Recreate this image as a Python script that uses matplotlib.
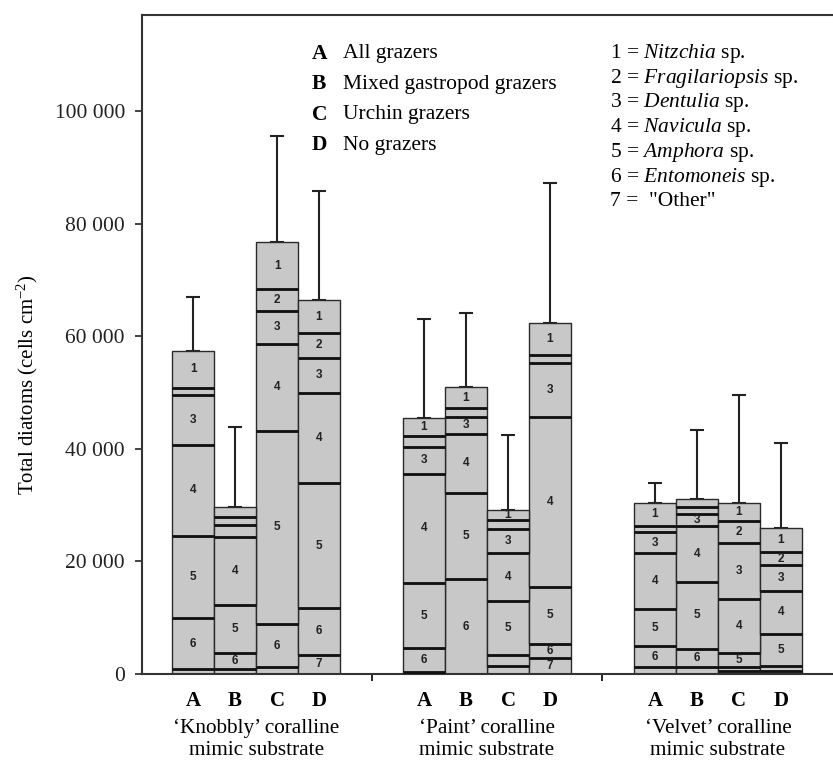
import numpy as np
import matplotlib.pyplot as plt
from matplotlib.ticker import FuncFormatter
from matplotlib.transforms import blended_transform_factory

plt.rcParams['font.family'] = ['Liberation Serif', 'DejaVu Serif']
plt.rcParams['mathtext.fontset'] = 'custom'
plt.rcParams['mathtext.rm'] = 'Liberation Serif'
plt.rcParams['mathtext.it'] = 'Liberation Serif:italic'

# diatom counts (thousand cells cm-2), bars: Knobbly A-D, Paint A-D, Velvet A-D
groups = ["\u2018Knobbly\u2019 coralline\nmimic substrate", "\u2018Paint\u2019 coralline\nmimic substrate",
          "\u2018Velvet\u2019 coralline\nmimic substrate"]
treatments = ["A", "B", "C", "D"]
nitzchia = [6.6, 1.7, 8.5, 5.9, 3.1, 3.6, 1.8, 5.6, 4.1, 1.3, 3.2, 4.3]
fragilariopsis = [1.2, 1.4, 3.9, 4.3, 1.9, 1.6, 1.6, 1.5, 1.1, 1.2, 3.9, 2.2]
dentulia = [8.9, 2.2, 5.7, 6.3, 4.8, 3.1, 4.4, 9.5, 3.8, 2.3, 9.8, 4.6]
navicula = [16.2, 12.1, 15.5, 16.0, 19.5, 10.4, 8.4, 30.2, 9.9, 9.8, 9.6, 7.7]
amphora = [14.6, 8.4, 34.3, 22.2, 11.5, 15.4, 9.6, 10.2, 6.6, 12.0, 2.5, 5.6]
entomoneis = [9.1, 3.0, 7.7, 8.3, 4.3, 16.8, 1.9, 2.5, 3.6, 3.1, 0.8, 1.0]
other = [0.8, 0.8, 1.2, 3.4, 0.3, 0.0, 1.5, 2.8, 1.3, 1.3, 0.5, 0.5]
errors = [9.6, 14.2, 18.7, 19.4, 17.7, 13.2, 13.3, 24.9, 3.6, 12.3, 19.3, 15.2]
# which segments carry a number label
shown = [[1, 3, 4, 5, 6], [4, 5, 6], [1, 2, 3, 4, 5, 6], [1, 2, 3, 4, 5, 6, 7],
         [1, 3, 4, 5, 6], [1, 3, 4, 5, 6], [1, 3, 4, 5], [1, 3, 4, 5, 6, 7],
         [1, 3, 4, 5, 6], [3, 4, 5, 6], [1, 2, 3, 4, 5], [1, 2, 3, 4, 5]]

legend_letters = ["A", "B", "C", "D"]
legend_names = ["All grazers", "Mixed gastropod grazers", "Urchin grazers", "No grazers"]
species_lines = [r"1 = $\mathit{Nitzchia}$ sp.", r"2 = $\mathit{Fragilariopsis}$ sp.",
                 r"3 = $\mathit{Dentulia}$ sp.", r"4 = $\mathit{Navicula}$ sp.",
                 r"5 = $\mathit{Amphora}$ sp.", r"6 = $\mathit{Entomoneis}$ sp.",
                 '7 =  "Other"']

# stack from bottom: 7 up to 1
stack = np.array([other, entomoneis, amphora, navicula, dentulia, fragilariopsis, nitzchia]) * 1000
seg_nums = [7, 6, 5, 4, 3, 2, 1]
totals = stack.sum(axis=0)

pos = np.array([g * 5.5 + i for g in range(3) for i in range(4)], dtype=float)

fig = plt.figure(figsize=(8.33, 7.65), dpi=100)
ax = fig.add_axes([0.170, 0.119, 0.830, 0.861])

bottom = np.zeros(len(pos))
for k, vals in enumerate(stack):
    ax.bar(pos, vals, width=1.0, bottom=bottom, color='#c8c8c8',
           edgecolor='#2a2a2a', linewidth=1.0, zorder=2)
    tops = bottom + vals
    for j in range(len(pos)):
        if k < len(stack) - 1 and vals[j] > 0 and tops[j] < totals[j] - 1:
            ax.hlines(tops[j], pos[j] - 0.5, pos[j] + 0.5, color='#111111', lw=2.0, zorder=3)
        if seg_nums[k] in shown[j]:
            ax.text(pos[j], bottom[j] + vals[j] / 2, str(seg_nums[k]), ha='center', va='center',
                    fontsize=8.5, fontweight='bold', family='Liberation Sans', color='#222222', zorder=4)
    bottom = tops

ax.errorbar(pos, totals, yerr=[np.zeros(len(pos)), np.array(errors) * 1000], fmt='none',
            ecolor='#222222', elinewidth=1.5, capsize=5, capthick=1.5, zorder=1)

ax.set_xlim(-1.226, 15.24)
ax.set_ylim(0, 117000)
ax.set_yticks(np.arange(0, 100001, 20000))
ax.yaxis.set_major_formatter(FuncFormatter(lambda v, p: f"{int(v):,}".replace(",", " ")))
ax.tick_params(axis='y', direction='out', length=5, width=1.2, pad=7, labelsize=15.5, colors='#222222')
ax.set_xticks(pos)
ax.set_xticklabels(treatments * 3, fontweight='bold', fontsize=15)
ax.tick_params(axis='x', which='major', length=0, pad=12)
ax.set_xticks([4.25, 9.75], minor=True)
ax.tick_params(axis='x', which='minor', direction='out', length=5, width=1.2)

for s in ['left', 'bottom', 'top']:
    ax.spines[s].set_linewidth(1.5)
    ax.spines[s].set_color('#333333')
ax.spines['right'].set_visible(False)

ax.set_ylabel(r"Total diatoms (cells cm$^{\mathrm{-2}}$)", fontsize=15)
ax.yaxis.set_label_coords(-0.147, 0.44)

trans = blended_transform_factory(ax.transData, ax.transAxes)
for g, name in enumerate(groups):
    ax.text(g * 5.5 + 1.5, -0.099, name, transform=trans, ha='center', va='center',
            fontsize=15.3, linespacing=1.2)

for i in range(4):
    y = 0.942 - i * 0.0465
    ax.text(0.246, y, legend_letters[i], transform=ax.transAxes, fontsize=15.5,
            fontweight='bold', va='center')
    ax.text(0.291, y, legend_names[i], transform=ax.transAxes, fontsize=15.5, va='center')

for i, line in enumerate(species_lines):
    ax.text(0.6775, 0.942 - i * 0.0375, line, transform=ax.transAxes, fontsize=15.5, va='center')

fig.savefig('out.png', dpi=100)
